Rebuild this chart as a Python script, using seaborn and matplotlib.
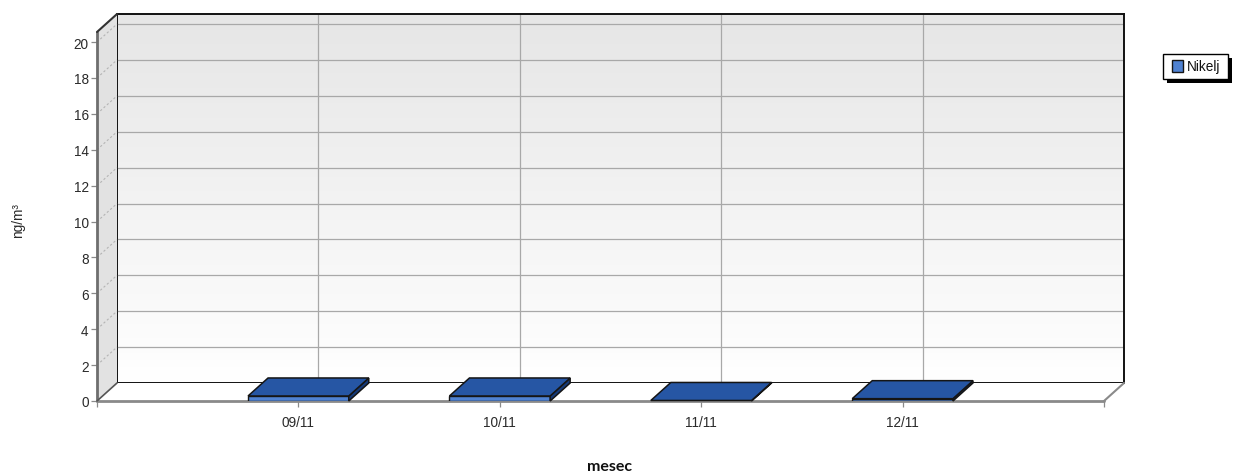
import numpy as np
import pandas as pd
import seaborn as sns
import matplotlib.pyplot as plt
from matplotlib.patches import Polygon, Rectangle
from matplotlib.lines import Line2D
from matplotlib.colors import LinearSegmentedColormap
from matplotlib.transforms import IdentityTransform

# ---- data -------------------------------------------------------------
months = ["09/11", "10/11", "11/11", "12/11"]
nikelj = [0.28, 0.28, 0.03, 0.13]
y_ticks = [0, 2, 4, 6, 8, 10, 12, 14, 16, 18, 20]
series_name = "Nikelj"
x_label = "mesec"
y_label = "ng/m³"

# ---- geometry / style -------------------------------------------------
W, H, DPI = 1239, 477, 100
DX, DY = 20, 18                      # depth of the 3D box, pixels
FL, FR, FB, FT = 97, 1104, 402, 33   # front plane, pixels from top-left
YMAX = 20.56
X_MIN, X_MAX = -1, 4

FRONT = "#4f82d2"
TOP = "#2656a4"
SIDE = "#163a78"
EDGE = "#151515"
TICK_FS = 9.8

sns.set_theme(style="white")
plt.rcParams["font.family"] = ["Liberation Sans", "DejaVu Sans"]


def fig_rect(l, r, b, t):
    return [l / W, (H - b) / H, (r - l) / W, (b - t) / H]


fig = plt.figure(figsize=(W / DPI, H / DPI), dpi=DPI)
fig.patch.set_facecolor("white")

# back wall with gradient and grid
back = fig.add_axes(fig_rect(FL + DX, FR + DX, FB - DY, FT - DY), zorder=0)
wall_cmap = LinearSegmentedColormap.from_list("wall", ["#ffffff", "#e6e6e6"])
grad = np.linspace(0, 1, 256).reshape(-1, 1)
back.imshow(grad, extent=[X_MIN, X_MAX, 0, YMAX], origin="lower",
            aspect="auto", cmap=wall_cmap, zorder=0)
back.set_xlim(X_MIN, X_MAX)
back.set_ylim(0, YMAX)
back.set_xticks(range(len(months)))
back.set_yticks(y_ticks)
back.grid(True, color="#a8a8a8", lw=0.9)
back.tick_params(length=0, labelbottom=False, labelleft=False)
for s in back.spines.values():
    s.set_color("#111111")
    s.set_linewidth(1.4)

# front plane: bars, ticks
ax = fig.add_axes(fig_rect(FL, FR, FB, FT), zorder=1)
ax.set_facecolor("none")
df = pd.DataFrame({"mesec": months, "value": nikelj})
sns.barplot(data=df, x="mesec", y="value", color=FRONT, saturation=1,
            width=0.5, edgecolor=EDGE, linewidth=1.0, ax=ax, zorder=5)
ax.set_xlim(X_MIN, X_MAX)
ax.set_ylim(0, YMAX)
ax.set_xlabel("")
ax.set_ylabel("")
ax.set_yticks(y_ticks)
ax.set_xticks(range(len(months)))
ax.set_xticklabels(months)
ax.set_xticks([X_MIN, X_MAX], minor=True)
for s in ax.spines.values():
    s.set_visible(False)
ax.tick_params(axis="both", which="both", length=4, width=0.9,
               color="#8a8a8a", labelsize=TICK_FS, labelcolor="#2a2a2a")
ax.tick_params(axis="x", which="both", bottom=True, pad=6)
ax.tick_params(axis="y", left=True, pad=2)

ID = IdentityTransform()
T = ax.transData.transform
d = np.array([DX, DY])

# left wall
lfb, lft = T((X_MIN, 0)), T((X_MIN, YMAX))
ax.add_patch(Polygon([lfb, lft, lft + d, lfb + d], closed=True,
                     facecolor="#e2e2e2", edgecolor="none",
                     transform=ID, clip_on=False, zorder=0.5))
ax.add_line(Line2D([lfb[0], lft[0]], [lfb[1], lft[1]], color="#6e6e6e",
                   lw=2.0, transform=ID, clip_on=False, zorder=2))
ax.add_line(Line2D([lft[0], lft[0] + DX], [lft[1], lft[1] + DY],
                   color="#333333", lw=1.5, transform=ID, clip_on=False, zorder=2))
for yv in y_ticks[1:]:
    p = T((X_MIN, yv))
    ax.add_line(Line2D([p[0], p[0] + DX], [p[1], p[1] + DY], color="#b4b4b4",
                       lw=0.8, dashes=(2, 2), transform=ID, clip_on=False, zorder=1))

# floor
rfb = T((X_MAX, 0))
ax.add_patch(Polygon([lfb, rfb, rfb + d, lfb + d], closed=True,
                     facecolor="white", edgecolor="none",
                     transform=ID, clip_on=False, zorder=0.6))
ax.add_line(Line2D([lfb[0], rfb[0]], [lfb[1], rfb[1]], color="#8a8a8a",
                   lw=2.0, transform=ID, clip_on=False, zorder=2))
ax.add_line(Line2D([rfb[0], rfb[0] + DX], [rfb[1], rfb[1] + DY], color="#8a8a8a",
                   lw=1.5, transform=ID, clip_on=False, zorder=2))
ax.add_line(Line2D([lfb[0], lfb[0] + DX], [lfb[1], lfb[1] + DY], color="#555555",
                   lw=1.2, transform=ID, clip_on=False, zorder=2))

# 3D faces on the seaborn bars
for bar in list(ax.patches):
    if not hasattr(bar, "get_width") or bar.get_width() >= (X_MAX - X_MIN):
        continue
    x0, w, h = bar.get_x(), bar.get_width(), bar.get_height()
    fl, fr = T((x0, h)), T((x0 + w, h))
    br0 = T((x0 + w, 0))
    ax.add_patch(Polygon([br0, fr, fr + d, br0 + d], closed=True,
                         facecolor=SIDE, edgecolor=EDGE, lw=1.1,
                         transform=ID, clip_on=False, zorder=6))
    ax.add_patch(Polygon([fl, fr, fr + d, fl + d], closed=True,
                         facecolor=TOP, edgecolor=EDGE, lw=1.1,
                         transform=ID, clip_on=False, zorder=7))

# axis titles
fig.text(609 / W, 1 - 467 / H, x_label, ha="center", va="center",
         fontsize=11.5, fontweight="bold", family=["Lato", "DejaVu Sans"],
         color="#111111")
fig.text(18 / W, 1 - 221 / H, y_label, ha="center", va="center",
         rotation=90, fontsize=TICK_FS, color="#2a2a2a")

# legend box with a solid drop shadow (pixel coordinates, top-left origin)
def px_rect(l, t, r, b, **kw):
    return Rectangle((l / W, 1 - b / H), (r - l) / W, (b - t) / H,
                     transform=fig.transFigure, **kw)

fig.add_artist(px_rect(1167, 59, 1232, 84, facecolor="black", edgecolor="none"))
fig.add_artist(px_rect(1163, 55, 1228, 80, facecolor="white",
                       edgecolor="black", lw=1.0))
fig.add_artist(px_rect(1172, 61, 1183, 73, facecolor=FRONT,
                       edgecolor=EDGE, lw=1.0))
fig.text(1187 / W, 1 - 67.5 / H, series_name, ha="left", va="center",
         fontsize=TICK_FS, color="#111111")

fig.savefig("out.png", dpi=DPI, facecolor="white")
